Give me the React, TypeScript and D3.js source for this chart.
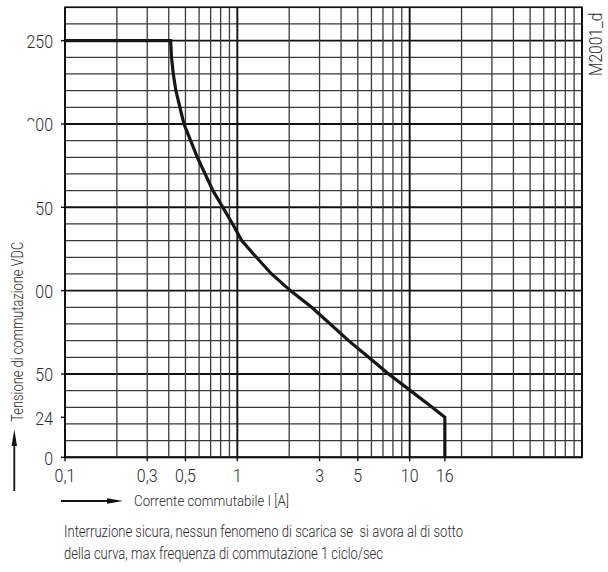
import React from "react";
import * as d3 from "d3";

// ---- data ----
const currentA = [0.1, 0.41, 0.415, 0.425, 0.44, 0.49, 0.586, 0.722, 0.939, 1.06, 1.29, 1.58, 2.03, 2.7, 3.46, 4.42, 5.78, 7.55, 10.1, 13.5, 16, 16];
const voltageV = [250, 250, 240, 230, 220, 200, 180, 160, 140, 130, 120, 110, 100, 90, 80, 70, 60, 50, 40, 30, 24, 0];

const xTickValues = [0.1, 0.3, 0.5, 1, 3, 5, 10, 16];
const xTickLabels = ["0,1", "0,3", "0,5", "1", "3", "5", "10", "16"];
const yTickValues = [0, 24, 50, 100, 150, 200, 250];
const yTickLabels = ["0", "24", "50", "100", "150", "200", "250"];

const xDomain = [0.1, 100];
const yDomain = [0, 270];
const yGridStep = 10;

const yTitle = "Tensione di commutazione VDC";
const xTitle = "Corrente commutabile I [A]";
const noteLines = [
  "Interruzione sicura, nessun fenomeno di scarica se  si avora al di sotto",
  "della curva, max frequenza di commutazione 1 ciclo/sec",
];
const codeLabel = "M2001_d";

const FONT = "Roboto, 'Liberation Sans', sans-serif";
const TXT = "#2a2a2a";

function Narrow(props: {
  x: number;
  y: number;
  sx: number;
  size: number;
  rotate?: number;
  anchor?: "start" | "middle" | "end";
  children: React.ReactNode;
}) {
  const rot = props.rotate ? ` rotate(${props.rotate})` : "";
  return (
    <g transform={`translate(${props.x},${props.y})${rot} scale(${props.sx},1)`}>
      <text
        x={0}
        y={0}
        textAnchor={props.anchor || "start"}
        fontFamily={FONT}
        fontWeight={300}
        fontSize={props.size}
        fill={TXT}
      >
        {props.children}
      </text>
    </g>
  );
}

export default function App() {
  const W = 608;
  const H = 572;
  const left = 65;
  const right = 582;
  const top = 7.3;
  const bottom = 457.3;

  const x = d3.scaleLog().domain(xDomain).range([left, right]);
  const y = d3.scaleLinear().domain(yDomain).range([bottom, top]);

  const vGrid = x.ticks();
  const hGrid = d3.range(yDomain[0], yDomain[1] + 0.001, yGridStep);

  const isDecade = (v: number) => Math.abs(Math.log10(v) - Math.round(Math.log10(v))) < 1e-9;

  const pts: [number, number][] = currentA.map((c, i) => [c, voltageV[i]]);
  const line = d3
    .line<[number, number]>()
    .x((d) => x(d[0]))
    .y((d) => y(d[1]))
    .curve(d3.curveLinear);

  return (
    <svg
      width={W}
      height={H}
      viewBox={`0 0 ${W} ${H}`}
      style={{ position: "absolute", left: 0, top: 0, background: "#fff" }}
    >
      <rect x={0} y={0} width={W} height={H} fill="#fff" />
      {/* horizontal grid */}
      {hGrid.map((v) => {
        const major = v % 50 === 0;
        return (
          <line
            key={"h" + v}
            x1={left}
            x2={right}
            y1={y(v)}
            y2={y(v)}
            stroke={major ? "#111" : "#3a3a3a"}
            strokeWidth={major ? 1.9 : 1.3}
          />
        );
      })}
      {/* vertical grid */}
      {vGrid.map((v, i) => {
        const major = isDecade(v);
        return (
          <line
            key={"v" + i}
            x1={x(v)}
            x2={x(v)}
            y1={top}
            y2={bottom}
            stroke={major ? "#111" : "#3a3a3a"}
            strokeWidth={major ? 1.9 : 1.3}
          />
        );
      })}
      {/* frame */}
      <rect x={left} y={top} width={right - left} height={bottom - top} fill="none" stroke="#111" strokeWidth={1.6} />

      {/* x ticks */}
      {xTickValues.map((v, i) => (
        <g key={"xt" + i}>
          <line x1={x(v)} x2={x(v)} y1={bottom} y2={bottom + 4} stroke="#111" strokeWidth={1.4} />
          <Narrow x={x(v)} y={481.5} sx={0.84} size={19} anchor="middle">
            {xTickLabels[i]}
          </Narrow>
        </g>
      ))}
      {/* y ticks */}
      {yTickValues.map((v, i) => (
        <g key={"yt" + i}>
          <line x1={left - 4} x2={left} y1={y(v)} y2={y(v)} stroke="#111" strokeWidth={1.4} />
          <Narrow x={53} y={y(v) + 7.5} sx={0.84} size={19} anchor="end">
            {yTickLabels[i]}
          </Narrow>
        </g>
      ))}
      {/* white patch that hides the leading digits, as in the reference scan */}
      <rect x={22} y={121.5} width={12.8} height={180} fill="#fff" />

      {/* curve */}
      <path d={line(pts) || ""} fill="none" stroke="#161616" strokeWidth={3.2} strokeLinejoin="miter" />

      {/* y title */}
      <text
        transform="translate(23,421.7) rotate(-90)"
        fontFamily={FONT}
        fontWeight={300}
        fontSize={17}
        fill={TXT}
        textLength={180}
        lengthAdjust="spacingAndGlyphs"
      >
        {yTitle}
      </text>
      {/* vertical arrow */}
      <line x1={14.3} x2={14.3} y1={491} y2={444} stroke="#111" strokeWidth={1.8} />
      <polygon points="14.3,429.5 11.6,446 17,446" fill="#111" />

      {/* horizontal arrow */}
      <line x1={61} x2={109} y1={501} y2={501} stroke="#111" strokeWidth={1.8} />
      <polygon points="123,501 107,498.2 107,503.8" fill="#111" />
      <text
        x={134}
        y={506}
        fontFamily={FONT}
        fontWeight={300}
        fontSize={15}
        fill={TXT}
        textLength={155}
        lengthAdjust="spacingAndGlyphs"
      >
        {xTitle}
      </text>

      {/* note */}
      {noteLines.map((t, i) => (
        <text
          key={"n" + i}
          x={64}
          y={537 + i * 22}
          fontFamily={FONT}
          fontWeight={300}
          fontSize={16.5}
          fill={TXT}
          style={{ whiteSpace: "pre" }}
          textLength={i === 0 ? 399 : 319}
          lengthAdjust="spacingAndGlyphs"
        >
          {t}
        </text>
      ))}

      {/* code label */}
      <Narrow x={601.5} y={76} rotate={-90} sx={0.82} size={19}>
        {codeLabel}
      </Narrow>
    </svg>
  );
}
